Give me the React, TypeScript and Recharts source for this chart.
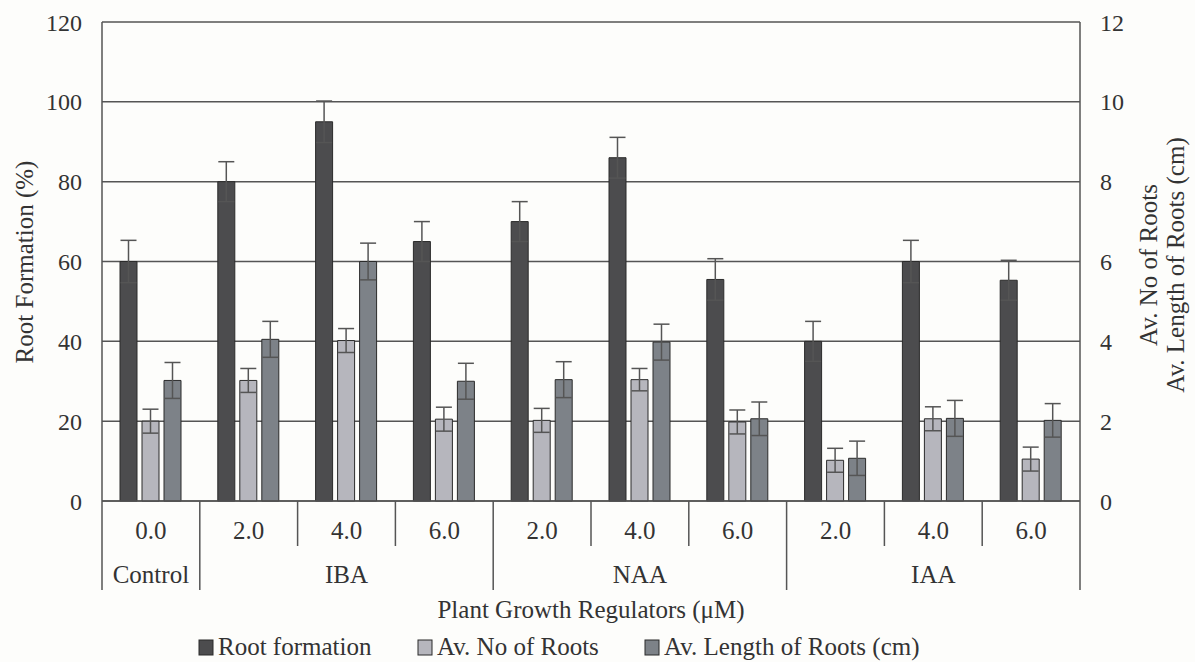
import React from 'react';
import { BarChart, Bar, XAxis, YAxis, CartesianGrid, ErrorBar, Legend } from 'recharts';

const categories = ['0.0', '2.0', '4.0', '6.0', '2.0', '4.0', '6.0', '2.0', '4.0', '6.0'];
const groups = ['Control', 'IBA', 'IBA', 'IBA', 'NAA', 'NAA', 'NAA', 'IAA', 'IAA', 'IAA'];
const rootFormation = [60, 80, 95, 65, 70, 86, 55.5, 40, 60, 55.3];
const rootFormationErr = [5.3, 5, 5.2, 5, 5, 5.1, 5.2, 5, 5.3, 5];
const numRoots = [2.0, 3.02, 4.02, 2.05, 2.02, 3.04, 1.98, 1.02, 2.06, 1.05];
const numRootsErr = [0.3, 0.3, 0.3, 0.3, 0.3, 0.28, 0.3, 0.3, 0.3, 0.3];
const lengthRoots = [3.02, 4.05, 6.0, 3.0, 3.04, 3.98, 2.06, 1.07, 2.07, 2.02];
const lengthRootsErr = [0.45, 0.45, 0.46, 0.45, 0.45, 0.45, 0.42, 0.43, 0.45, 0.42];
const leftTicks = [0, 20, 40, 60, 80, 100, 120];
const rightTicks = [0, 2, 4, 6, 8, 10, 12];

const seriesNames = ['Root formation', 'Av. No of Roots', 'Av. Length of Roots (cm)'];
const seriesColors = ['#4c4c4e', '#b6b6bd', '#7d8288'];

const data = categories.map((c, i) => ({
  id: `${groups[i]}-${c}-${i}`,
  dose: c,
  group: groups[i],
  rf: rootFormation[i],
  rfErr: rootFormationErr[i],
  no: numRoots[i],
  noErr: numRootsErr[i],
  len: lengthRoots[i],
  lenErr: lengthRootsErr[i],
}));

const FONT = "Liberation Serif, DejaVu Serif, serif";
const fontStyle = { fontFamily: FONT };
const TEXT = '#333';
const LINE = '#555';
const W = 1195;
const H = 662;
const LEFT_W = 102;
const RIGHT_W = 115;
const PLOT_W = W - LEFT_W - RIGHT_W;

const XTick = (props: any) => {
  const { x, y, payload, index } = props;
  const bw = payload && payload.offset ? payload.offset * 2 : PLOT_W / categories.length;
  const left = x - bw / 2;
  const isGroupStart = index === 0 || groups[index] !== groups[index - 1];
  const isLast = index === categories.length - 1;
  let groupLabel: React.ReactNode = null;
  if (isGroupStart) {
    let count = 0;
    for (let j = index; j < groups.length && groups[j] === groups[index]; j++) count++;
    groupLabel = (
      <text x={x + ((count - 1) / 2) * bw} y={y + 82} textAnchor="middle" style={fontStyle} fontSize={25} fill={TEXT}>
        {groups[index]}
      </text>
    );
  }
  return (
    <g>
      <line x1={left} x2={left} y1={y} y2={y + (isGroupStart ? 89 : 45)} stroke={LINE} strokeWidth={1.5} />
      {isLast && <line x1={x + bw / 2} x2={x + bw / 2} y1={y} y2={y + 89} stroke={LINE} strokeWidth={1.5} />}
      <text x={x} y={y + 38} textAnchor="middle" style={fontStyle} fontSize={25} fill={TEXT}>
        {categories[index]}
      </text>
      {groupLabel}
    </g>
  );
};

const legendX = [199, 418, 645];

const LegendContent = () => (
  <div style={{ width: W, height: 30 }}>
    <svg width={W} height={30} style={{ display: 'block' }}>
      {seriesNames.map((n, i) => (
        <g key={n}>
          <rect x={legendX[i]} y={8} width={14} height={15} fill={seriesColors[i]} stroke="#2b2b2b" strokeWidth={1} />
          <text x={legendX[i] + 19} y={23} style={fontStyle} fontSize={25} fill={TEXT}>
            {n}
          </text>
        </g>
      ))}
    </svg>
  </div>
);

export default function App() {
  return (
    <div style={{ position: 'absolute', left: 0, top: 0, width: W, height: H, background: '#fdfdfb', fontFamily: FONT }}>
      <BarChart
        width={W}
        height={H}
        data={data}
        margin={{ top: 22, right: 0, bottom: 0, left: 0 }}
        barSize={17}
        barGap={5}
        style={fontStyle}
      >
        <CartesianGrid yAxisId="left" vertical={false} stroke={LINE} strokeWidth={1.5} />
        <XAxis
          dataKey="id"
          interval={0}
          height={131}
          tickLine={false}
          tickSize={0}
          tickMargin={0}
          axisLine={{ stroke: LINE, strokeWidth: 1.5 }}
          tick={<XTick />}
          label={{
            value: 'Plant Growth Regulators (\u03bcM)',
            position: 'insideBottom',
            offset: 14,
            style: fontStyle,
            fontSize: 25,
            fill: TEXT,
          }}
        />
        <YAxis
          yAxisId="left"
          orientation="left"
          width={LEFT_W}
          domain={[0, 120]}
          ticks={leftTicks}
          interval={0}
          tickLine={false}
          tickSize={0}
          tickMargin={20}
          axisLine={{ stroke: LINE, strokeWidth: 1.5 }}
          tick={{ style: fontStyle, fontSize: 24, fill: TEXT }}
          label={{
            content: () => (
              <text x={33} y={262} transform="rotate(-90, 33, 262)" textAnchor="middle" style={fontStyle} fontSize={25} fill={TEXT}>
                Root Formation (%)
              </text>
            ),
          }}
        />
        <YAxis
          yAxisId="right"
          orientation="right"
          width={RIGHT_W}
          domain={[0, 12]}
          ticks={rightTicks}
          interval={0}
          tickLine={false}
          tickSize={0}
          tickMargin={20}
          axisLine={{ stroke: LINE, strokeWidth: 1.5 }}
          tick={{ style: fontStyle, fontSize: 24, fill: TEXT }}
          label={{
            content: () => (
              <g>
                <text x={1157} y={265} transform="rotate(-90, 1157, 265)" textAnchor="middle" style={fontStyle} fontSize={25} fill={TEXT}>
                  Av. No of Roots
                </text>
                <text x={1184} y={265} transform="rotate(-90, 1184, 265)" textAnchor="middle" style={fontStyle} fontSize={25} fill={TEXT}>
                  Av. Length of Roots (cm)
                </text>
              </g>
            ),
          }}
        />
        <Legend
          verticalAlign="bottom"
          content={<LegendContent />}
          wrapperStyle={{ left: 0, bottom: 0, width: W, height: 30 }}
        />
        <Bar yAxisId="left" dataKey="rf" name={seriesNames[0]} fill={seriesColors[0]} stroke="#2b2b2b" strokeWidth={1} isAnimationActive={false}>
          <ErrorBar dataKey="rfErr" width={8} stroke="#555" strokeWidth={1.5} direction="y" />
        </Bar>
        <Bar yAxisId="right" dataKey="no" name={seriesNames[1]} fill={seriesColors[1]} stroke="#2b2b2b" strokeWidth={1} isAnimationActive={false}>
          <ErrorBar dataKey="noErr" width={8} stroke="#555" strokeWidth={1.5} direction="y" />
        </Bar>
        <Bar yAxisId="right" dataKey="len" name={seriesNames[2]} fill={seriesColors[2]} stroke="#2b2b2b" strokeWidth={1} isAnimationActive={false}>
          <ErrorBar dataKey="lenErr" width={8} stroke="#555" strokeWidth={1.5} direction="y" />
        </Bar>
      </BarChart>
    </div>
  );
}
